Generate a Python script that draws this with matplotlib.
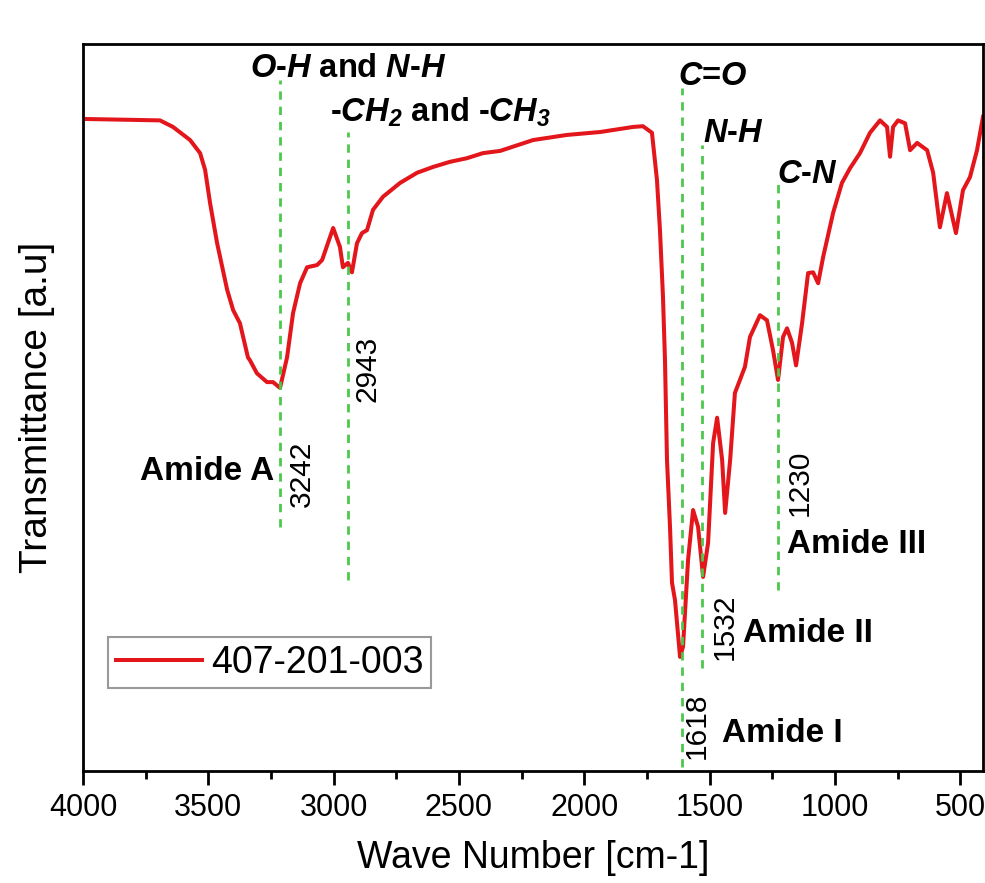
import matplotlib
matplotlib.use("Agg")
import matplotlib.pyplot as plt

plt.rcParams['font.family'] = ['Liberation Sans', 'DejaVu Sans']
plt.rcParams['mathtext.fontset'] = 'custom'
plt.rcParams['mathtext.rm'] = 'Liberation Sans:bold'
plt.rcParams['mathtext.it'] = 'Liberation Sans:italic'
plt.rcParams['mathtext.bf'] = 'Liberation Sans:bold'
plt.rcParams['mathtext.bfit'] = 'Liberation Sans:italic:bold'

# FTIR spectrum (wavenumber cm-1, transmittance a.u.)
wavenumber = [4000, 3693, 3641, 3573, 3533, 3513, 3493, 3465, 3425, 3401, 3374, 3342,
              3334, 3306, 3266, 3242, 3214, 3186, 3162, 3134, 3106, 3066, 3046, 3002,
              2975, 2963, 2943, 2927, 2907, 2887, 2867, 2843, 2803, 2735, 2667, 2603,
              2536, 2468, 2404, 2336, 2204, 2069, 1937, 1805, 1766, 1730, 1710, 1698,
              1686, 1678, 1670, 1658, 1650, 1638, 1618, 1606, 1586, 1566, 1546, 1526,
              1506, 1486, 1470, 1450, 1438, 1418, 1399, 1379, 1359, 1339, 1299, 1271,
              1247, 1227, 1207, 1191, 1171, 1155, 1131, 1107, 1087, 1067, 1047, 1007,
              972, 940, 900, 860, 820, 792, 780, 768, 748, 720, 700, 672, 632, 608,
              581, 553, 517, 489, 461, 433, 409]
transmittance = [89.7, 89.5, 88.6, 86.8, 85.0, 82.7, 78.1, 72.6, 66.2, 63.4, 61.6, 56.9,
                 56.5, 54.7, 53.5, 53.5, 52.7, 56.9, 63.0, 67.1, 69.3, 69.6, 70.3, 74.7,
                 72.1, 69.3, 69.9, 68.6, 72.6, 74.0, 74.4, 77.2, 79.0, 80.9, 82.3, 83.1,
                 83.8, 84.3, 85.0, 85.3, 86.8, 87.5, 87.9, 88.6, 88.7, 87.8, 81.3, 74.4,
                 65.2, 56.5, 42.8, 33.6, 25.9, 23.5, 15.7, 17.1, 29.0, 35.9, 33.6, 26.7,
                 31.4, 45.1, 48.6, 42.8, 35.5, 42.8, 52.0, 53.8, 55.6, 59.7, 62.7, 62.0,
                 57.9, 53.8, 59.7, 60.9, 58.9, 55.8, 61.6, 68.5, 68.6, 67.1, 70.7, 76.8,
                 80.9, 82.9, 85.0, 87.8, 89.5, 88.6, 84.5, 88.6, 89.5, 89.1, 85.4, 86.4,
                 85.4, 82.3, 74.8, 79.5, 74.0, 79.9, 81.7, 85.4, 90.0]

# green marker lines: position, top, bottom
line_pos = [3214, 2943, 1612, 1530, 1228]
line_top = [95.0, 87.9, 94.0, 86.1, 81.0]
line_bottom = [33.6, 26.3, 0.5, 14.2, 24.9]

# peak numbers (rotated)
peak_text = ['3242', '2943', '1618', '1532', '1230']
peak_x = [3126, 2863, 1550, 1438, 1139]
peak_y = [40.9, 55.3, 6.2, 19.8, 39.6]

# group labels
group_text = [r'$\mathbfit{O\text{-}H}$ and $\mathbfit{N\text{-}H}$',
              r'-$\mathbfit{CH_2}$ and -$\mathbfit{CH_3}$',
              r'$\mathbfit{C\text{=}O}$',
              r'$\mathbfit{N\text{-}H}$',
              r'$\mathbfit{C\text{-}N}$']
group_x = [3334, 3014, 1626, 1526, 1231]
group_y = [95.5, 89.3, 94.4, 86.5, 80.9]

amide_text = ['Amide A', 'Amide III', 'Amide II', 'Amide I']
amide_x = [3773, 1191, 1367, 1450]
amide_y = [40.0, 30.0, 17.7, 4.0]

fig = plt.figure(figsize=(9.85, 8.83), dpi=100)
ax = fig.add_axes([0.0843, 0.1268, 0.9137, 0.8233])

ax.plot(wavenumber, transmittance, color='#e3161c', lw=2.9, label='407-201-003', zorder=2)

for x, top, bot in zip(line_pos, line_top, line_bottom):
    ax.plot([x, x], [bot, top], color='#4cc84c', lw=2, ls=(0, (3, 2.5)), zorder=3)

for t, x, y in zip(peak_text, peak_x, peak_y):
    ax.text(x, y, t, rotation=90, ha='center', va='center', fontsize=21.5)

for t, x, y in zip(group_text, group_x, group_y):
    ax.text(x, y, t, ha='left', va='baseline', fontsize=23.5, fontweight='bold')

for t, x, y in zip(amide_text, amide_x, amide_y):
    ax.text(x, y, t, ha='left', va='baseline', fontsize=24, fontweight='bold')

ax.set_xlim(4000, 409)
ax.set_ylim(0, 100)
ax.set_xticks([4000, 3500, 3000, 2500, 2000, 1500, 1000, 500])
ax.set_xticks([3750, 3250, 2750, 2250, 1750, 1250, 750], minor=True)
ax.set_yticks([])
ax.tick_params(axis='x', which='major', direction='out', length=10, width=2, labelsize=22, pad=6)
ax.tick_params(axis='x', which='minor', direction='out', length=6, width=2)
for s in ax.spines.values():
    s.set_linewidth(2)

ax.set_xlabel('Wave Number [cm-1]', fontsize=27, labelpad=12)
ax.set_ylabel('Transmittance [a.u]', fontsize=28, labelpad=20)

leg = ax.legend(loc='upper left', bbox_to_anchor=(0.028, 0.184), borderaxespad=0,
                fontsize=27, handlelength=2.3, handletextpad=0.25, fancybox=False,
                framealpha=1, borderpad=0.2)
leg.get_frame().set_edgecolor('#999999')
leg.get_frame().set_linewidth(1.5)

fig.savefig('out.png', dpi=100)
